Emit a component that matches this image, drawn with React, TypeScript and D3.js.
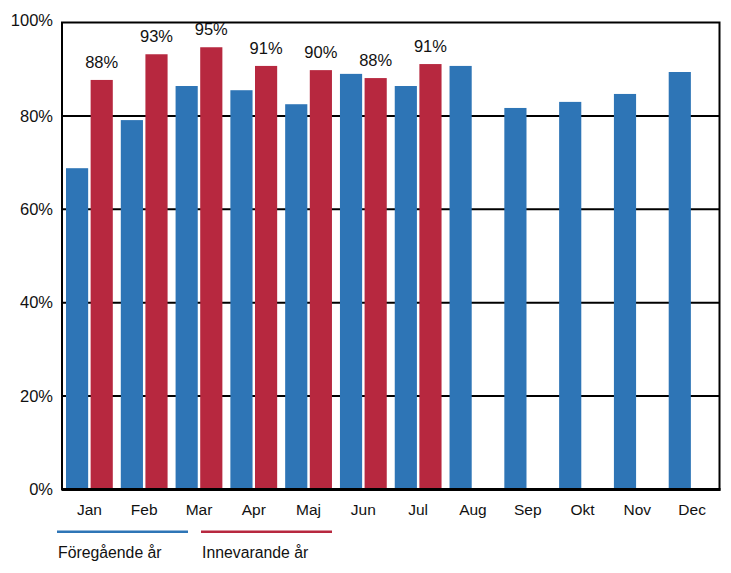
import React from "react";
import * as d3 from "d3";

const months = ["Jan", "Feb", "Mar", "Apr", "Maj", "Jun", "Jul", "Aug", "Sep", "Okt", "Nov", "Dec"];
const previousYear = [0.688, 0.791, 0.864, 0.855, 0.825, 0.89, 0.864, 0.907, 0.817, 0.83, 0.847, 0.894];
const currentYear = [0.877, 0.932, 0.947, 0.907, 0.898, 0.881, 0.911];
const yTicks = [0, 0.2, 0.4, 0.6, 0.8, 1.0];
const seriesNames = ["Föregående år", "Innevarande år"];

const W = 731;
const H = 573;
const left = 62;
const right = 719.5;
const top = 22.5;
const bottom = 489.5;
const BLUE = "#2E75B6";
const RED = "#B7283F";
const FONT = "'Liberation Sans', Arial, sans-serif";

export default function App() {
  const x = d3.scaleBand<string>().domain(months).range([left, right]).paddingInner(0).paddingOuter(0);
  const bw = x.bandwidth();
  const xi = d3.scaleBand<string>().domain(["prev", "cur"]).range([4, bw - 4]).paddingInner(0.1);
  const y = d3.scaleLinear().domain([0, 1]).range([bottom, top]);
  const fmt = d3.format(".0%");

  return (
    <div style={{ position: "absolute", left: 0, top: 0 }}>
      <svg width={W} height={H} style={{ display: "block", fontFamily: FONT }}>
        <rect x={0} y={0} width={W} height={H} fill="#fff" />
        {yTicks.map((t) => (
          <g key={t}>
            {t > 0 && t < 1 && (
              <line x1={left} x2={right} y1={y(t)} y2={y(t)} stroke="#000" strokeWidth={2} />
            )}
            <text x={53} y={y(t) + (t === 1 ? 3.5 : 5.7)} textAnchor="end" fontSize={16.5} fill="#111">
              {fmt(t)}
            </text>
          </g>
        ))}
        {previousYear.map((v, i) => (
          <rect
            key={"p" + i}
            x={(x(months[i]) ?? 0) + (xi("prev") ?? 0)}
            y={y(v)}
            width={xi.bandwidth()}
            height={bottom - y(v)}
            fill={BLUE}
          />
        ))}
        {currentYear.map((v, i) => (
          <rect
            key={"c" + i}
            x={(x(months[i]) ?? 0) + (xi("cur") ?? 0)}
            y={y(v)}
            width={xi.bandwidth()}
            height={bottom - y(v)}
            fill={RED}
          />
        ))}
        {currentYear.map((v, i) => (
          <text
            key={"l" + i}
            x={(x(months[i]) ?? 0) + (xi("cur") ?? 0) + xi.bandwidth() / 2}
            y={y(v) - 12}
            textAnchor="middle"
            fontSize={16.5}
            fill="#111"
          >
            {fmt(v)}
          </text>
        ))}
        <rect x={left} y={top} width={right - left} height={bottom - top} fill="none" stroke="#000" strokeWidth={2} />
        <line x1={left} x2={right + 1} y1={bottom} y2={bottom} stroke="#000" strokeWidth={3} />
        {months.map((m) => (
          <text key={m} x={(x(m) ?? 0) + bw / 2} y={515} textAnchor="middle" fontSize={15.5} fill="#111">
            {m}
          </text>
        ))}
        <line x1={57} x2={188} y1={531.7} y2={531.7} stroke={BLUE} strokeWidth={2.5} />
        <line x1={201} x2={332} y1={531.7} y2={531.7} stroke={RED} strokeWidth={2.5} />
        <text x={58} y={558} fontSize={15.8} fill="#111">{seriesNames[0]}</text>
        <text x={202} y={558} fontSize={15.8} fill="#111">{seriesNames[1]}</text>
      </svg>
    </div>
  );
}
